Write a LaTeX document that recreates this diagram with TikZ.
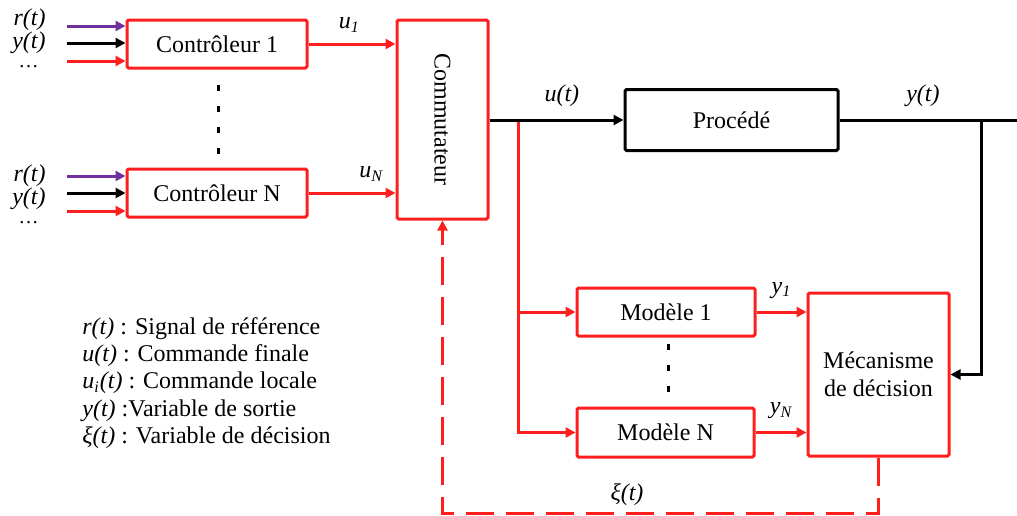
\documentclass[tikz,border=0pt]{standalone}
\usepackage{fontspec}
\setmainfont{Liberation Serif}
\usetikzlibrary{arrows.meta}
\definecolor{sigred}{RGB}{255,30,30}
\definecolor{sigpurple}{RGB}{112,48,160}
\tikzset{
  bloc/.style={draw=sigred, line width=1.5pt, rounded corners=0.8pt, inner sep=0pt},
  fleche/.style={-{Triangle[length=5pt,width=5pt]}, line width=1.5pt},
  lbl/.style={inner sep=0pt, text=black, font=\fontsize{12}{14}\selectfont\itshape},
  pts/.style={inner sep=0pt, text height=1.5pt, text depth=0pt, font=\fontsize{10}{10}\selectfont},
}

\begin{document}
\begin{tikzpicture}[x=0.5pt, y=-0.5pt, font=\fontsize{12}{14}\selectfont]
    \useasboundingbox (0,0) rectangle (1017,515);
    % blocs
    \node[bloc, minimum width=90pt, minimum height=24pt] (ctrl1) at (217,44) {Contrôleur 1};
    \node[bloc, minimum width=90pt, minimum height=24pt] (ctrlN) at (217,193) {Contrôleur N};
    \node[bloc, minimum width=45.5pt, minimum height=99.5pt] (comm) at (442.5,119.5) {};
    \node[rotate=-90] at (comm.center) {Commutateur};
    \node[bloc, draw=black, minimum width=106.5pt, minimum height=30.5pt] (proc) at (731.5,120) {Procédé};
    \node[bloc, minimum width=89pt, minimum height=24pt] (mod1) at (666,312) {Modèle 1};
    \node[bloc, minimum width=88.5pt, minimum height=24.5pt] (modN) at (665.5,432.5) {Modèle N};
    \node[bloc, minimum width=70.5pt, minimum height=81.5pt, align=center] (mec) at (878.5,374.5) {Mécanisme\\de décision};
    % entrees des controleurs
    \coordinate (r1) at (67,26);
    \coordinate (y1) at (67,43);
    \coordinate (d1) at (67,61);
    \coordinate (rN) at (67,176);
    \coordinate (yN) at (67,193);
    \coordinate (dN) at (67,211);
    \draw[fleche, sigpurple] (r1) -- (r1 -| ctrl1.west);
    \draw[fleche, black] (y1) -- (y1 -| ctrl1.west);
    \draw[fleche, sigred] (d1) -- (d1 -| ctrl1.west);
    \draw[fleche, sigpurple] (rN) -- (rN -| ctrlN.west);
    \draw[fleche, black] (yN) -- (yN -| ctrlN.west);
    \draw[fleche, sigred] (dN) -- (dN -| ctrlN.west);
    \node[lbl, anchor=east] (lr1) at (46,20) {r(t)};
    \node[lbl, anchor=east] (ly1) at (46,43) {y(t)};
    \node[pts, anchor=east] (ld1) at (39,66) {\ldots};
    \node[lbl, anchor=east] (lrN) at (46,176) {r(t)};
    \node[lbl, anchor=east] (lyN) at (46,199) {y(t)};
    \node[pts, anchor=east] (ldN) at (39,222) {\ldots};
    % sorties des controleurs
    \draw[fleche, sigred] (ctrl1.east) -- (ctrl1.east -| comm.west) node[lbl, above, pos=0.47, yshift=5pt] {u\textsubscript{1}};
    \draw[fleche, sigred] (ctrlN.east) -- (ctrlN.east -| comm.west) node[lbl, above, pos=0.72, yshift=5pt] {u\textsubscript{N}};
    \draw[line width=1.5pt, dash pattern=on 3pt off 7.5pt] (218,85) -- (218,154);
    % commande et modeles
    \coordinate (br) at (518,120);
    \draw[fleche, sigred] (br) |- (modN.west);
    \draw[fleche, sigred] (br |- mod1.west) -- (mod1.west);
    \draw[fleche, black] (comm.east |- proc.west) -- (proc.west) node[lbl, above, pos=0.54, yshift=6pt] {u(t)};
    \draw[line width=1.5pt, dash pattern=on 3pt off 7.5pt] (668,344) -- (668,392);
    \draw[fleche, sigred] (mod1.east) -- (mod1.east -| mec.west) node[lbl, above, pos=0.5, yshift=6pt] {y\textsubscript{1}};
    \draw[fleche, sigred] (modN.east) -- (modN.east -| mec.west) node[lbl, above, pos=0.5, yshift=6pt] {y\textsubscript{N}};
    % sortie du procede
    \coordinate (out) at (1017,120);
    \coordinate (fb) at (981,120);
    \draw[line width=1.5pt] (proc.east) -- (out) node[lbl, above, pos=0.47, yshift=6pt] {y(t)};
    \draw[fleche, black] (fb) |- (mec.east);
    % decision
    \draw[fleche, sigred, dash pattern=on 14pt off 6pt] (mec.south) -- (878.5,513) -| (comm.south);
    \node[lbl] (lxi) at (627,495) {ξ(t)};
    % legende
    \node[anchor=west, align=left, inner sep=0pt, font=\fontsize{12}{13.6}\selectfont] (leg) at (82,383) {%
      \textit{r(t)} : Signal de référence\\
      \textit{u(t)} : Commande finale\\
      \textit{u\textsubscript{i}(t)} : Commande locale\\
      \textit{y(t)} :Variable de sortie\\
      \textit{ξ(t)} : Variable de décision};
\end{tikzpicture}
\end{document}
